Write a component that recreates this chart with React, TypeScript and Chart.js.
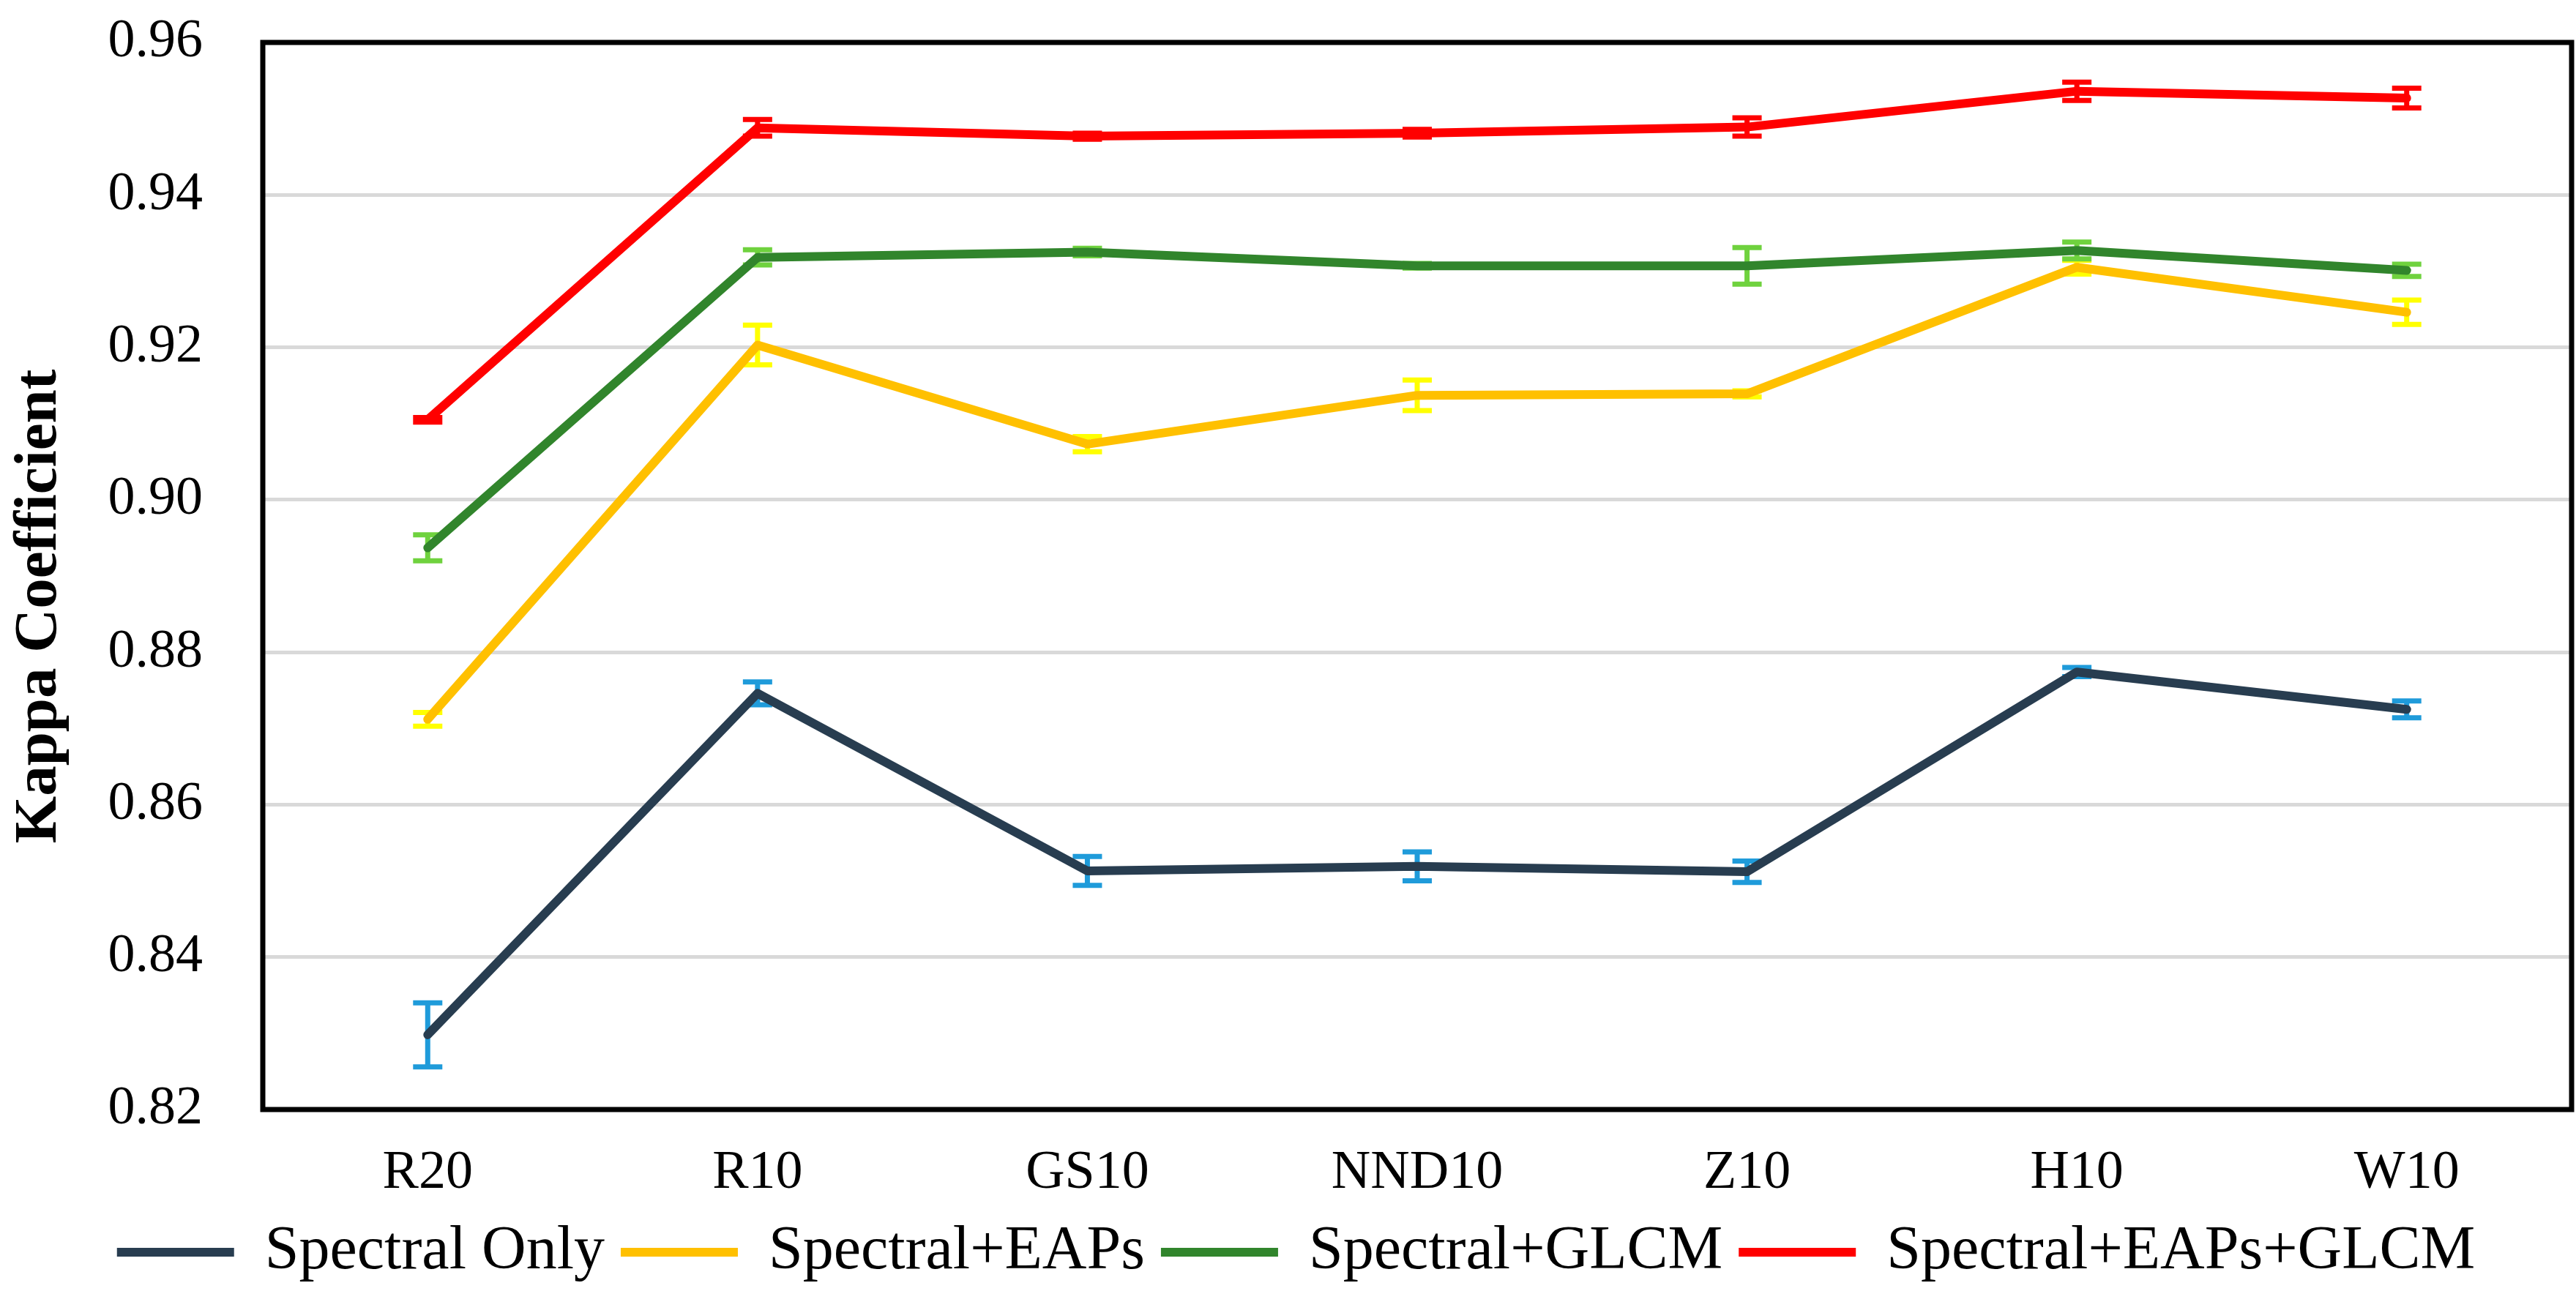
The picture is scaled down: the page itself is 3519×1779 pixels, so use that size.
import React, { useEffect, useRef } from 'react';
import { Chart, registerables } from 'chart.js';

Chart.register(...registerables);

const categories = ['R20', 'R10', 'GS10', 'NND10', 'Z10', 'H10', 'W10'];
const seriesNames = ['Spectral Only', 'Spectral+EAPs', 'Spectral+GLCM', 'Spectral+EAPs+GLCM'];

const spectralOnly = [0.8298, 0.8746, 0.8513, 0.8519, 0.8512, 0.8774, 0.8725];
const spectralOnlyErr = [0.0042, 0.0015, 0.0019, 0.0019, 0.0014, 0.0006, 0.0011];

const spectralEaps = [0.8712, 0.9203, 0.9073, 0.9137, 0.9139, 0.9305, 0.9246];
const spectralEapsErr = [0.0009, 0.0026, 0.001, 0.002, 0.0004, 0.0009, 0.0016];

const spectralGlcm = [0.8937, 0.9318, 0.9325, 0.9307, 0.9307, 0.9327, 0.9301];
const spectralGlcmErr = [0.0017, 0.001, 0.0005, 0.0003, 0.0024, 0.0011, 0.0008];

const spectralEapsGlcm = [0.9105, 0.9488, 0.9477, 0.9481, 0.9489, 0.9536, 0.9527];
const spectralEapsGlcmErr = [0.0003, 0.0011, 0.0004, 0.0005, 0.0012, 0.0012, 0.0013];

const lineColors = ['#283D50', '#FFC000', '#31852C', '#FF0000'];
const errorColors = ['#1F9BDA', '#FFFF00', '#6FD23E', '#FF0000'];

const yMin = 0.82;
const yMax = 0.96;
const yStep = 0.02;

const seriesValues = [spectralOnly, spectralEaps, spectralGlcm, spectralEapsGlcm];
const seriesErrors = [spectralOnlyErr, spectralEapsErr, spectralGlcmErr, spectralEapsGlcmErr];

const FONT = '"Liberation Serif", "Times New Roman", serif';

const framePlugin = {
  id: 'frame',
  beforeDatasetsDraw(chart: any) {
    const { ctx, chartArea } = chart;
    ctx.save();
    ctx.strokeStyle = '#000000';
    ctx.lineWidth = 7;
    ctx.strokeRect(chartArea.left, chartArea.top, chartArea.right - chartArea.left, chartArea.bottom - chartArea.top);
    ctx.restore();
  },
};

const errorBarPlugin = {
  id: 'errorBars',
  beforeDatasetsDraw(chart: any) {
    const { ctx } = chart;
    const x = chart.scales.x;
    const y = chart.scales.y;
    seriesValues.forEach((vals, i) => {
      const errs = seriesErrors[i];
      ctx.save();
      ctx.strokeStyle = errorColors[i];
      ctx.lineWidth = 7;
      ctx.lineCap = 'butt';
      vals.forEach((v, j) => {
        const px = x.getPixelForValue(j);
        const top = y.getPixelForValue(v + errs[j]);
        const bot = y.getPixelForValue(v - errs[j]);
        ctx.beginPath();
        ctx.moveTo(px, top);
        ctx.lineTo(px, bot);
        ctx.moveTo(px - 20, top);
        ctx.lineTo(px + 20, top);
        ctx.moveTo(px - 20, bot);
        ctx.lineTo(px + 20, bot);
        ctx.stroke();
      });
      ctx.restore();
    });
  },
};

export default function App() {
  const canvasRef = useRef<HTMLCanvasElement | null>(null);

  useEffect(() => {
    if (!canvasRef.current) return;
    const chart = new Chart(canvasRef.current, {
      type: 'line',
      data: {
        labels: categories,
        datasets: seriesValues.map((vals, i) => ({
          label: seriesNames[i],
          data: vals,
          borderColor: lineColors[i],
          backgroundColor: lineColors[i],
          borderWidth: 12,
          borderCapStyle: 'round',
          borderJoinStyle: 'round',
          pointRadius: 0,
          pointHoverRadius: 0,
          tension: 0,
          fill: false,
        })),
      },
      options: {
        animation: false,
        responsive: true,
        maintainAspectRatio: false,
        devicePixelRatio: 1,
        layout: { padding: { left: 28, right: 6, top: 58, bottom: 16 } },
        plugins: {
          legend: {
            display: true,
            position: 'bottom',
            labels: {
              usePointStyle: true,
              pointStyle: 'line',
              pointStyleWidth: 160,
              boxHeight: 84,
              padding: 22,
              color: '#000000',
              font: { family: FONT, size: 84 },
            },
          },
          tooltip: { enabled: false },
          title: { display: false },
        },
        scales: {
          x: {
            type: 'category',
            offset: true,
            grid: { display: false, drawTicks: false },
            border: { display: false },
            ticks: {
              color: '#000000',
              padding: 43,
              font: { family: FONT, size: 74 },
              maxRotation: 0,
              autoSkip: false,
            },
            afterFit: (scale: any) => {
              scale.height = 131;
            },
          },
          y: {
            min: yMin,
            max: yMax,
            grid: {
              color: '#D9D9D9',
              lineWidth: 5,
              drawTicks: true,
              tickLength: 82,
              tickColor: 'rgba(0,0,0,0)',
            },
            border: { display: false },
            ticks: {
              stepSize: yStep,
              color: '#000000',
              padding: 0,
              font: { family: FONT, size: 74 },
              callback: (v: any) => Number(v).toFixed(2),
            },
            title: {
              display: true,
              text: 'Kappa Coefficient    ',
              color: '#000000',
              font: { family: FONT, size: 83, weight: 'bold', lineHeight: 0.6 },
              padding: { top: 2, bottom: 0 },
            },
            afterFit: (scale: any) => {
              scale.width = 331;
            },
          },
        },
      },
      plugins: [framePlugin, errorBarPlugin],
    } as any);
    return () => chart.destroy();
  }, []);

  return (
    <div style={{ position: 'fixed', left: 0, top: 0, width: 3519, height: 1779, background: '#ffffff' }}>
      <canvas ref={canvasRef} style={{ display: 'block' }} />
    </div>
  );
}
